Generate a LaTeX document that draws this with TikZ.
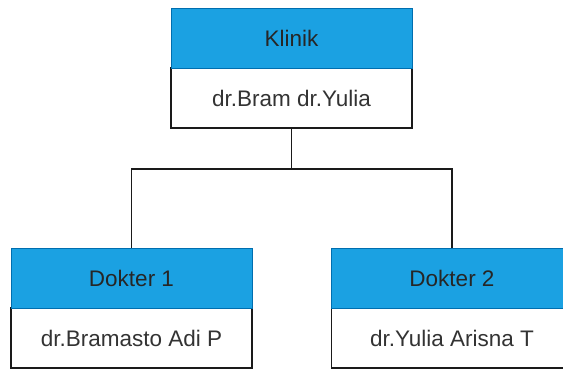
\documentclass[tikz,border=0pt]{standalone}
\usepackage{fontspec}
\setmainfont{Liberation Sans}
\definecolor{hdr}{HTML}{1BA1E2}
\definecolor{hdrline}{HTML}{006EAF}
\definecolor{bodytext}{HTML}{333333}
\definecolor{linec}{HTML}{1A1A1A}
\begin{document}
\begin{tikzpicture}[x=1pt,y=-1pt,
  hbox/.style={rectangle, fill=hdr, draw=hdrline, line width=1pt, minimum width=241pt, minimum height=60pt, inner sep=0pt, font=\fontsize{22.5}{26}\selectfont, text=black!85},
  bbox/.style={rectangle, fill=white, draw=linec, line width=1.5pt, minimum width=241pt, minimum height=60pt, inner sep=0pt, font=\fontsize{22.5}{26}\selectfont, text=bodytext},
  conn/.style={draw=linec, line width=1.5pt}]
\useasboundingbox (0,0) rectangle (563,368);
\clip (0,0) rectangle (563,368);
\node[bbox] (tb) at (291.5,98) {dr.Bram dr.Yulia};
\node[hbox] (th) at (291.5,38) {Klinik};
\node[bbox] (c1b) at (131.5,338) {dr.Bramasto Adi P};
\node[hbox] (c1h) at (131.5,278) {Dokter 1};
\node[bbox] (c2b) at (452,338) {dr.Yulia Arisna T};
\node[hbox] (c2h) at (452,278) {Dokter 2};
\path (tb.south) ++(0,40) coordinate (j);
\draw[conn] (tb.south) -- (j) -| (c1h.north);
\draw[conn] (j) -| (c2h.north);
\end{tikzpicture}
\end{document}
